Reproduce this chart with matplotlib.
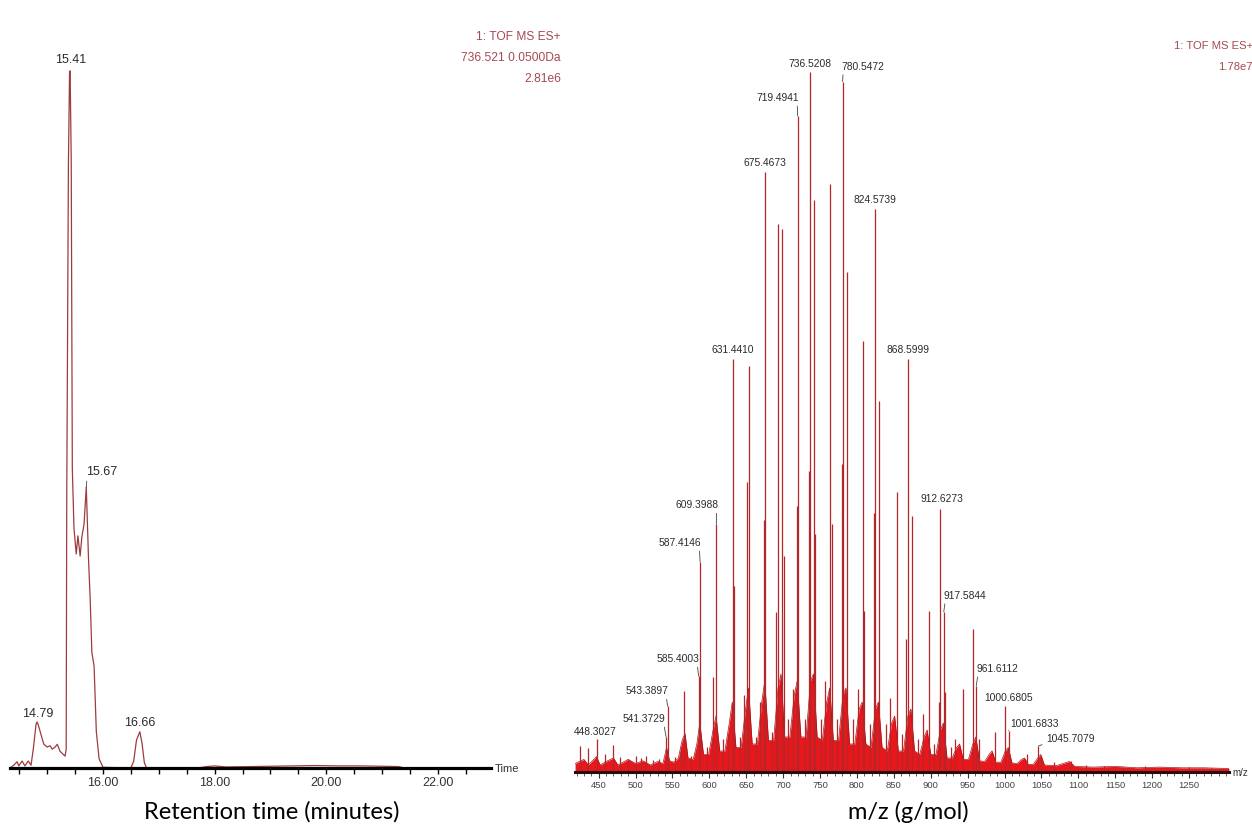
import matplotlib
matplotlib.use("Agg")
import matplotlib.pyplot as plt
from matplotlib import font_manager
from matplotlib.ticker import FixedLocator, MultipleLocator, FuncFormatter

# ----- fonts -----
installed = {f.name for f in font_manager.fontManager.ttflist}
if "Liberation Sans Narrow" in installed:
    NARROW, K = "Liberation Sans Narrow", 1.0
else:
    NARROW, K = "Liberation Sans", 0.9

# ----- chromatogram (left) -----
RT_TIME = [14.333, 14.40, 14.46, 14.49, 14.55, 14.60, 14.66, 14.71, 14.75, 14.80,
           14.82, 14.85, 14.91, 14.94, 15.00, 15.05, 15.09, 15.14, 15.18, 15.23,
           15.28, 15.32, 15.34, 15.35, 15.38, 15.40, 15.41, 15.43, 15.45, 15.48,
           15.52, 15.55, 15.59, 15.62, 15.66, 15.70, 15.74, 15.77, 15.80, 15.84,
           15.88, 15.93, 16.00, 16.50, 16.55, 16.60, 16.66, 16.70, 16.74, 16.78,
           17.70, 17.85, 18.00, 18.20, 18.60, 19.00, 19.40, 19.80, 20.20, 20.60,
           21.00, 21.30, 21.40, 22.953]
RT_INT = [0.0, 0.4, 0.9, 0.3, 1.0, 0.3, 1.0, 0.4, 2.7, 6.3,
          6.6, 5.9, 4.2, 3.4, 3.0, 3.2, 2.7, 3.0, 3.4, 2.4,
          2.0, 1.7, 2.7, 38.6, 86.7, 99.6, 100.0, 87.4, 42.9, 34.3,
          30.7, 33.3, 30.4, 33.1, 35.0, 40.3, 30.0, 24.2, 16.6, 14.6,
          5.2, 1.3, 0.1, 0.0, 1.0, 4.0, 5.2, 3.5, 0.8, 0.0,
          0.0, 0.2, 0.3, 0.15, 0.2, 0.25, 0.3, 0.35, 0.3, 0.3,
          0.25, 0.2, 0.0, 0.0]
RT_LABELS = ["15.41", "15.67", "14.79", "16.66"]
RT_LABEL_T = [15.41, 15.70, 14.82, 16.66]
RT_LABEL_I = [100.0, 40.3, 6.6, 5.2]
RT_TICKS = [16, 18, 20, 22]
RT_HEADER = ["1: TOF MS ES+", "736.521 0.0500Da", "2.81e6"]

# ----- mass spectrum (right) -----
PEAK_MZ = [424, 435, 458, 469, 479, 490, 500, 507, 514, 524, 532, 553, 561, 565.4,
           575, 597, 605, 619, 625, 633.4, 641, 647, 651, 653.4, 663, 669, 673.5,
           685, 690.5, 693.1, 697.8, 701, 707, 713, 718.5, 729, 735.5, 741.3, 743.5,
           751, 757, 764.1, 765.5, 773, 779.5, 786.2, 795, 801, 808.1, 809.5, 817,
           823.5, 830.4, 839, 845, 854.2, 861, 867, 875.1, 883, 889, 897.6, 905,
           911, 919.6, 927, 933, 943.2, 957.5, 965, 987, 1031, 1050, 1067, 1090,
           1110, 1135, 1160, 1190, 1220, 1250, 1280]
PEAK_INT = [3.7, 3.4, 2.6, 3.9, 2.1, 1.9, 2.3, 2.0, 2.3, 1.7, 1.9, 2.1, 3.6, 11.6,
            2.3, 3.6, 13.6, 4.7, 5.4, 26.6, 5.0, 11.0, 41.4, 58.0, 5.0, 10.0, 36.0,
            5.7, 22.9, 78.3, 77.6, 30.9, 7.6, 11.9, 38.0, 7.6, 43.0, 81.7, 34.0,
            7.6, 13.0, 84.0, 35.4, 7.6, 44.0, 71.4, 7.6, 11.9, 61.6, 23.0, 6.8,
            37.0, 53.0, 6.8, 10.5, 40.0, 5.4, 19.0, 36.6, 4.7, 8.3, 23.0, 4.0,
            10.0, 11.4, 3.6, 4.7, 11.9, 20.4, 4.7, 5.7, 2.6, 2.3, 1.4, 1.6,
            1.0, 0.8, 0.7, 0.8, 0.6, 0.7, 0.6]

MS_LABELS = ["736.5208", "780.5472", "719.4941", "675.4673", "824.5739", "631.4410",
             "868.5999", "609.3988", "587.4146", "912.6273", "917.5844", "585.4003",
             "543.3897", "541.3729", "448.3027", "961.6112", "1000.6805", "1001.6833",
             "1045.7079"]
MS_LABEL_MZ = [736.5, 780.5, 719.5, 675.5, 824.6, 631.4, 868.6, 609.4, 587.4, 912.6,
               917.6, 585.4, 543.4, 541.4, 448.3, 961.6, 1000.7, 1005.5, 1045.7]
MS_LABEL_INT = [100.0, 98.6, 93.7, 85.7, 80.4, 59.0, 59.0, 35.4, 30.0, 37.6,
                22.9, 13.7, 9.4, 5.0, 4.7, 12.3, 9.4, 5.9, 3.7]

# dense low-level signal along the baseline
ENV_MZ = [418, 430, 436, 447, 452, 462, 470, 476, 490, 500, 510, 520, 530, 537, 542,
          546, 552, 558, 563, 567, 571, 578, 583, 587, 592, 599, 605, 609, 614, 621,
          627, 631, 636, 643, 649, 653, 658, 665, 671, 675, 680, 687, 693, 697, 702,
          709, 715, 719, 724, 731, 737, 741, 746, 753, 759, 763, 768, 775, 781, 785,
          790, 797, 803, 807, 812, 819, 825, 829, 834, 841, 847, 851, 856, 863, 869,
          873, 878, 885, 891, 895, 900, 907, 913, 917, 922, 929, 935, 939, 944, 951,
          957, 961, 966, 973, 979, 983, 988, 995, 1001, 1005, 1010, 1017, 1023, 1027,
          1032, 1039, 1045, 1049, 1054, 1070, 1088, 1095, 1120, 1150, 1180, 1210,
          1240, 1270, 1304]
ENV_H = [1.2, 1.8, 1.0, 2.2, 1.0, 1.6, 2.0, 1.0, 1.8, 1.2, 1.6, 1.0, 1.5, 1.2, 3.5,
         1.6, 1.4, 2.0, 4.5, 5.5, 2.0, 1.8, 4.0, 7.0, 2.5, 2.5, 6.0, 8.0, 3.0, 3.0,
         7.0, 10.0, 3.5, 3.5, 9.0, 12.0, 4.0, 4.0, 10.0, 13.0, 4.5, 4.5, 12.0, 14.0, 5.0,
         5.0, 11.0, 13.0, 5.0, 5.0, 13.0, 14.0, 5.0, 4.5, 10.0, 12.0, 4.5, 4.5, 11.0, 12.0,
         4.0, 4.0, 9.0, 10.0, 4.0, 3.5, 9.0, 10.0, 3.5, 3.0, 7.0, 8.0, 3.0, 3.0, 8.0,
         9.0, 3.0, 2.5, 5.0, 6.0, 2.5, 2.5, 6.0, 7.0, 2.0, 2.0, 3.5, 4.0, 1.8, 1.8,
         4.0, 5.0, 1.6, 1.5, 2.5, 3.0, 1.4, 1.4, 3.0, 3.5, 1.3, 1.2, 1.8, 2.0,
         1.1, 1.1, 2.0, 2.5, 1.0, 0.9, 1.5, 0.8, 0.7, 0.8, 0.6, 0.7,
         0.6, 0.6, 0.5]
MS_TICKS = list(range(450, 1251, 50))
MS_HEADER = ["1: TOF MS ES+", "1.78e7"]

# ----- label offsets from the peak top, in pixels (dx right, dy up) -----
RT_OFFSETS = [(0.7, 12), (15, 16), (0.7, 9), (0, 10)]
MS_OFFSETS = [(0, 9), (20, 16), (-19.5, 19), (0, 10), (0, 10), (0, 10), (0, 10),
              (-19, 20), (-20, 20), (2, 11), (21, 17), (-21, 18), (-21, 16), (-22, 19),
              (-2, 8), (21, 18), (3, 9), (26, 8), (32, 8)]

W, H = 1252, 829
PX = 72.0 / 100  # points per pixel


def box(x0, x1, ybase):
    return [x0 / W, (H - ybase) / H, (x1 - x0) / W, ybase / H]


def style_axis(ax, spine_color, spine_lw):
    for s in ("left", "right", "top"):
        ax.spines[s].set_visible(False)
    ax.spines["bottom"].set_color(spine_color)
    ax.spines["bottom"].set_linewidth(spine_lw)
    ax.set_yticks([])
    ax.patch.set_alpha(0)


def label_peaks(ax, texts, xs, ys, offsets, size):
    for txt, x, y, (dx, dy) in zip(texts, xs, ys, offsets):
        arrow = None
        if abs(dx) > 6:
            arrow = dict(arrowstyle="-", color="#444444", lw=0.6, shrinkA=1, shrinkB=0,
                         relpos=(0.95, 0.1) if dx < 0 else (0.05, 0.1))
        ax.annotate(txt, xy=(x, y), xytext=(dx * PX, dy * PX), textcoords="offset points",
                    ha="center", va="center", fontsize=size, family=NARROW,
                    color="#2b2b2b", arrowprops=arrow, annotation_clip=False)


fig = plt.figure(figsize=(12.52, 8.29), dpi=100)

# ----- left: chromatogram -----
ax1 = fig.add_axes(box(10, 491, 769))
ax1.plot(RT_TIME, RT_INT, color="#9c3c40", lw=0.9)
ax1.set_xlim(14.333, 22.953)
ax1.set_ylim(0, 110.3)
style_axis(ax1, "black", 2.3)
ax1.xaxis.set_major_locator(MultipleLocator(0.5))
ax1.xaxis.set_major_formatter(FuncFormatter(lambda v, p: f"{v:.2f}" if round(v, 2) in RT_TICKS else ""))
ax1.tick_params(axis="x", length=4.5, width=1.0, color="black", pad=1.5,
                labelsize=10 * K, labelcolor="#333333")
for t in ax1.get_xticklabels():
    t.set_family(NARROW)
label_peaks(ax1, RT_LABELS, RT_LABEL_T, RT_LABEL_I, RT_OFFSETS, 10 * K)
ax1.text(1.008, 0, "Time", transform=ax1.transAxes, ha="left", va="center",
         fontsize=9 * K, family=NARROW, color="#333333")

for i, line in enumerate(RT_HEADER):
    fig.text(561 / W, 1 - (37 + 21 * i) / H, line, ha="right", va="center",
             fontsize=9.6 * K, family=NARROW, color="#a44a52")

# ----- right: mass spectrum -----
ax2 = fig.add_axes(box(575, 1229, 773))
ax2.fill_between(ENV_MZ, 0, ENV_H, color="#e8171b", lw=0)
ax2.plot(ENV_MZ, ENV_H, color="#a3161a", lw=0.5)
ax2.vlines(PEAK_MZ, 0, PEAK_INT, color="#b3262a", lw=0.9)
ax2.vlines(MS_LABEL_MZ, 0, MS_LABEL_INT, color="#b3262a", lw=0.9)
ax2.set_xlim(417.9, 1304.1)
ax2.set_ylim(0, 110.4)
style_axis(ax2, "#2a0c0c", 2.2)
ax2.xaxis.set_major_locator(FixedLocator(MS_TICKS))
ax2.xaxis.set_minor_locator(MultipleLocator(10))
ax2.tick_params(axis="x", which="major", length=4.5, width=0.8, color="#333333", pad=1.5,
                labelsize=7.6 * K, labelcolor="#444444")
ax2.tick_params(axis="x", which="minor", length=3, width=0.6, color="#444444")
for t in ax2.get_xticklabels():
    t.set_family(NARROW)
label_peaks(ax2, MS_LABELS, MS_LABEL_MZ, MS_LABEL_INT, MS_OFFSETS, 8.2 * K)
ax2.text(1.005, 0, "m/z", transform=ax2.transAxes, ha="left", va="center",
         fontsize=7.8 * K, family=NARROW, color="#333333")

for i, line in enumerate(MS_HEADER):
    fig.text(1253 / W, 1 - (46 + 21 * i) / H, line, ha="right", va="center",
             fontsize=9 * K, family=NARROW, color="#a44a52")

# ----- axis titles under the panels -----
fig.text(272 / W, 1 - 812 / H, "Retention time (minutes)", ha="center", va="center",
         fontsize=17, family="Lato", color="black")
fig.text(908 / W, 1 - 812 / H, "m/z (g/mol)", ha="center", va="center",
         fontsize=17, family="Lato", color="black")

fig.savefig("out.png", dpi=100)
